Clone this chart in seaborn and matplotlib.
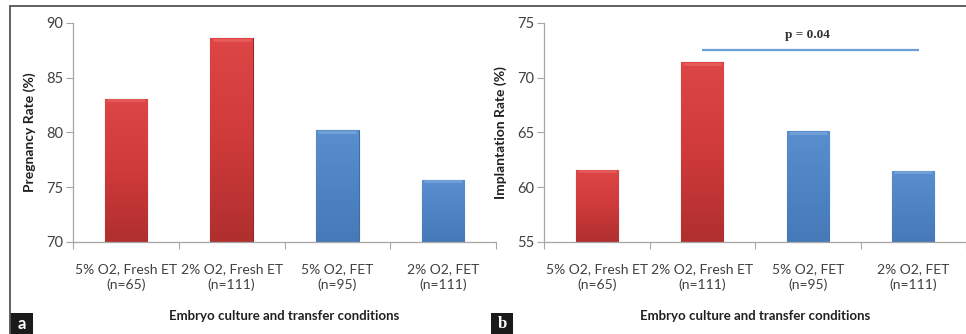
import numpy as np
import pandas as pd
import seaborn as sns
import matplotlib
matplotlib.use("Agg")
import matplotlib.pyplot as plt
from matplotlib.colors import LinearSegmentedColormap
from matplotlib.lines import Line2D
from matplotlib.patches import Rectangle

categories = ["5% O2, Fresh ET\n(n=65)", "2% O2, Fresh ET\n(n=111)",
              "5% O2, FET\n(n=95)", "2% O2, FET\n(n=111)"]
groups = ["Fresh", "Fresh", "FET", "FET"]
pregnancy_rate = [83.1, 88.6, 80.2, 75.7]
implantation_rate = [61.6, 71.4, 65.1, 61.5]
xlabel = "Embryo culture and transfer conditions"
p_text = "p = 0.04"
p_bar_y = 72.5

sns.set_theme(style="white")
plt.rcParams['font.family'] = ['Lato', 'DejaVu Sans']

W, H = 966, 334
fig = plt.figure(figsize=(W / 100, H / 100), dpi=100)

def fx(px):
    return px / W

def fy(py):
    return 1 - py / H

ax_a = fig.add_axes([fx(73), fy(242), fx(496 - 73), (242 - 23) / H])
ax_b = fig.add_axes([fx(544), fy(242), fx(966 - 544), (242 - 23) / H])

palette = {"Fresh": "#d63c3c", "FET": "#4f85c6"}
cmaps = {
    "Fresh": LinearSegmentedColormap.from_list("r", ["#b02f2f", "#cf3a3a", "#de4646"]),
    "FET": LinearSegmentedColormap.from_list("b", ["#4679b8", "#4e84c4", "#5a8fcf"]),
}
edges = {"Fresh": "#952828", "FET": "#3f6da8"}
tops = {"Fresh": "#e86060", "FET": "#7aa7dc"}

def draw(ax, values, ylim, yticks, ylabel):
    df = pd.DataFrame({"cat": categories, "val": values, "grp": groups})
    sns.barplot(data=df, x="cat", y="val", hue="grp", palette=palette,
                width=0.4, dodge=False, legend=False, ax=ax, saturation=1)
    grad = np.linspace(0, 1, 256).reshape(-1, 1)
    for patch, g, v in zip(ax.patches, groups, values):
        x0 = patch.get_x()
        w = patch.get_width()
        patch.set_edgecolor(edges[g])
        patch.set_linewidth(0.8)
        im = ax.imshow(grad, extent=(x0, x0 + w, ylim[0], v), origin="lower",
                       aspect="auto", cmap=cmaps[g], zorder=patch.get_zorder() + 0.1)
        im.set_clip_path(patch)
        ax.plot([x0 + w * 0.05, x0 + w * 0.95], [v - 0.15, v - 0.15],
                color=tops[g], lw=2.0, alpha=0.8,
                zorder=patch.get_zorder() + 0.2, solid_capstyle="butt")
    ax.set_xlim(-0.5, 3.5)
    ax.set_ylim(*ylim)
    ax.set_yticks(yticks)
    ax.set_xticks(range(4))
    ax.set_xticklabels(categories, fontsize=10, color="#404040", linespacing=1.35)
    ax.set_xticks([-0.5, 0.5, 1.5, 2.5, 3.5], minor=True)
    ax.tick_params(axis="x", which="major", length=0, pad=15)
    ax.tick_params(axis="x", which="minor", length=5, width=0.8,
                   color="#a6a6a6", direction="out", bottom=True)
    ax.tick_params(axis="y", length=5, width=0.8, color="#a6a6a6",
                   direction="out", left=True, labelsize=10.5, labelcolor="#404040", pad=2)
    for s in ["top", "right"]:
        ax.spines[s].set_visible(False)
    for s in ["left", "bottom"]:
        ax.spines[s].set_color("#a6a6a6")
        ax.spines[s].set_linewidth(0.9)
    ax.set_xlabel(xlabel, fontsize=9.5, fontweight="bold", color="#202020")
    ax.set_ylabel(ylabel, fontsize=10, fontweight="bold", color="#202020", labelpad=7)

draw(ax_a, pregnancy_rate, (70, 90), [70, 75, 80, 85, 90], "Pregnancy Rate (%)")
draw(ax_b, implantation_rate, (55, 75), [55, 60, 65, 70, 75], "Implantation Rate (%)")

ax_a.xaxis.set_label_coords(0.5, -0.31)
ax_b.xaxis.set_label_coords(0.5, -0.31)

ax_b.plot([1.0, 3.05], [p_bar_y, p_bar_y], color="#6a9fd8", lw=1.6,
          solid_capstyle="butt", clip_on=False)
ax_b.text(2.0, 73.9, p_text, ha="center", va="center", fontsize=9.5,
          fontweight="bold", family=["Liberation Serif"], color="#303030")

# panel borders
fig.add_artist(Line2D([fx(10), fx(10)], [fy(6), fy(334)], color="#555555", lw=1.3))
fig.add_artist(Line2D([fx(10), fx(966)], [fy(6), fy(6)], color="#555555", lw=1.3))

# panel letters
for x0, x1, letter, fam in [(10, 33, "a", ["Lato"]), (491, 513, "b", ["Liberation Serif"])]:
    fig.add_artist(Rectangle((fx(x0), fy(334)), fx(x1 - x0), (334 - 313) / H,
                             facecolor="#1a1a1a", edgecolor="none"))
    fig.text(fx((x0 + x1) / 2), fy(324), letter, ha="center", va="center",
             color="white", fontsize=12, fontweight="bold", family=fam)

fig.savefig("out.png", dpi=100)
